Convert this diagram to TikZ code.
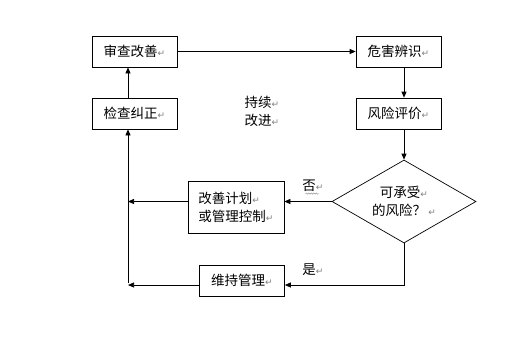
\documentclass[tikz,border=0pt]{standalone}
\usepackage{fontspec}
\setmainfont{Noto Sans CJK SC}
\newfontfamily\dvfont{DejaVu Sans}
\usetikzlibrary{arrows.meta,shapes.geometric,decorations.pathmorphing}
\newcommand\pmk{{\dvfont\fontsize{9pt}{9pt}\selectfont\textcolor{gray}{↵}}}
\tikzset{
  box/.style={draw, line width=0.7pt, minimum width=85pt, minimum height=31pt, inner sep=0pt,
     font=\fontsize{13.5pt}{18pt}\selectfont},
  txt/.style={inner sep=0pt, font=\fontsize{13.5pt}{18pt}\selectfont},
  conn/.style={line width=0.7pt},
  arr/.style={conn, -{Triangle[length=6pt,width=5pt]}}
}
\begin{document}
\begin{tikzpicture}[x=1pt,y=-1pt]
\useasboundingbox[fill=white] (0,0) rectangle (510,343);
\node[box] (shen) at (134.5,51.5) {审查改善\pmk};
\node[box] (wei) at (398.5,51.5) {危害辨识\pmk};
\node[box] (jc) at (134.5,113.5) {检查纠正\pmk};
\node[box] (feng) at (398.5,113.5) {风险评价\pmk};
\node[draw, line width=0.7pt, diamond, aspect=1.7, minimum width=144pt, minimum height=83pt, inner sep=0pt,
      align=center, font=\fontsize{13.5pt}{18pt}\selectfont] (dia) at (404,201.5) {可承受\pmk\\的风险？\,\pmk};
\node[box, minimum width=96pt, minimum height=52pt, align=left] (gai) at (236,207) {改善计划\pmk\\或管理控制\pmk};
\node[box] (wc) at (242,280.5) {维持管理\pmk};
\node[txt, align=left] (cx) at (262,111.5) {持续\pmk\\改进\pmk};
\node[txt] (fou) at (313,186) {否\pmk};
\node[txt] (shi) at (313,270) {是\pmk};
\draw[gray, line width=0.4pt, decorate, decoration={snake, amplitude=0.7pt, segment length=2.5pt}]
  ([xshift=-7.5pt,yshift=-1.5pt]fou.south) -- ++(13,0);
\coordinate (L1) at (128,201.5);
\coordinate (ym) at (404,285);
\coordinate (L2) at (128,285);
\draw[arr] (shen.east) -- (wei.west);
\draw[arr] (wei.south -| dia.north) -- (feng.north -| dia.north);
\draw[arr] (feng.south -| dia.north) -- (dia.north);
\draw[arr] (dia.west) -- (gai.east |- dia.west);
\draw[arr] (gai.west |- dia.west) -- (L1);
\draw[arr] (dia.south) -- (ym) -- (wc.east |- ym);
\draw[arr] (wc.west |- ym) -- (L2);
\draw[arr] ([yshift=2pt]L2) -- (jc.south -| L2);
\draw[arr] (jc.north -| L2) -- (shen.south -| L2);
\end{tikzpicture}
\end{document}
